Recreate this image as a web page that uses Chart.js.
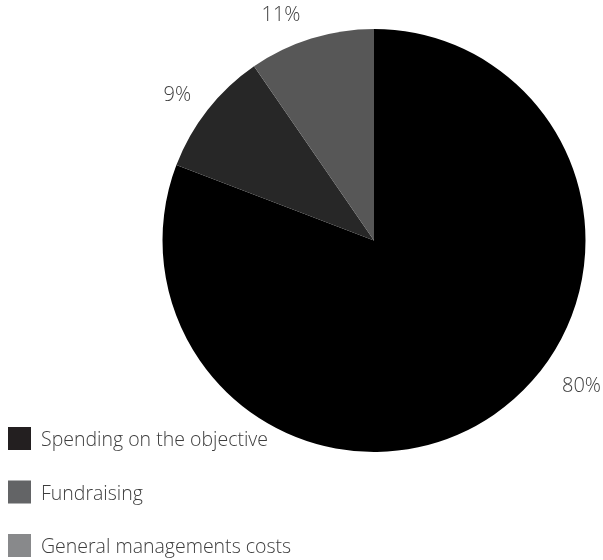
<!DOCTYPE html>
<html>
<head>
<meta charset="utf-8">
<script src="https://cdn.jsdelivr.net/npm/chart.js@4/dist/chart.umd.min.js"></script>
<style>
html,body{margin:0;padding:0;background:#fff;}
#wrap{position:relative;width:603px;height:560px;}
</style>
</head>
<body>
<div id="wrap"><canvas id="c" width="603" height="560"></canvas></div>
<script>
// Data
const categories = ['Spending on the objective', 'Fundraising', 'General managements costs'];
const shares = [80.8, 9.6, 9.6];           // slice sizes as drawn
const shareLabels = ['80%', '9%', '11%'];  // printed labels
const sliceColors = ['#000000', '#272727', '#575757'];
const legendColors = ['#231f20', '#636466', '#88898b'];

const labelPlugin = {
  id: 'pctLabels',
  afterDatasetsDraw(chart, args, opts) {
    const ctx = chart.ctx;
    const meta = chart.getDatasetMeta(0);
    ctx.save();
    ctx.font = opts.font;
    ctx.fillStyle = opts.color;
    ctx.textAlign = 'center';
    ctx.textBaseline = 'middle';
    meta.data.forEach((arc, i) => {
      const p = arc.getProps(['x','y','startAngle','endAngle','outerRadius'], true);
      const a = p.startAngle + opts.t[i] * (p.endAngle - p.startAngle);
      const r = p.outerRadius + opts.offset[i];
      ctx.fillText(shareLabels[i], p.x + Math.cos(a) * r, p.y + Math.sin(a) * r);
    });
    ctx.restore();
  }
};

const legendPlugin = {
  id: 'leftLegend',
  afterDraw(chart, args, opts) {
    const ctx = chart.ctx;
    ctx.save();
    ctx.font = opts.font;
    ctx.textBaseline = 'middle';
    ctx.textAlign = 'left';
    categories.forEach((name, i) => {
      const y = opts.top + i * opts.step;
      ctx.fillStyle = legendColors[i];
      ctx.fillRect(opts.left, y, opts.box, opts.box);
      ctx.fillStyle = opts.color;
      ctx.fillText(name, opts.left + opts.box + opts.gap, y + opts.box / 2 + 2);
    });
    ctx.restore();
  }
};

new Chart(document.getElementById('c'), {
  type: 'pie',
  data: {
    labels: categories,
    datasets: [{
      data: shares,
      backgroundColor: sliceColors,
      borderWidth: 0
    }]
  },
  options: {
    responsive: false,
    animation: false,
    layout: { padding: { left: 162, right: 17, top: 29, bottom: 108 } },
    plugins: {
      legend: { display: false },
      tooltip: { enabled: false },
      pctLabels: {
        font: '300 20px "Open Sans"',
        color: '#3d3d3d',
        t: [0.43, 0.45, 0.35],
        offset: [42, 33, 32]
      },
      leftLegend: {
        font: '300 19.5px "Open Sans"',
        color: '#3d3d3d',
        left: 8, top: 427, step: 53.5, box: 23, gap: 10
      }
    }
  },
  plugins: [labelPlugin, legendPlugin]
});
</script>
</body>
</html>
